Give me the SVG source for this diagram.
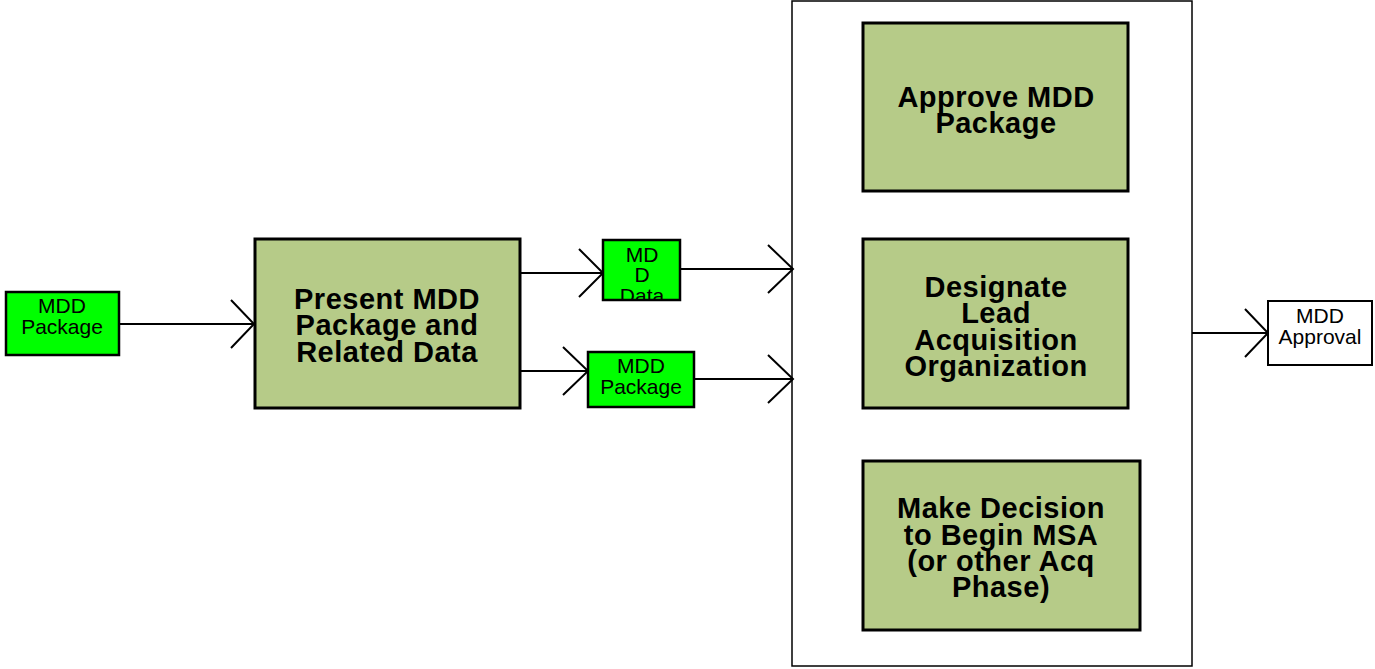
<svg xmlns="http://www.w3.org/2000/svg" width="1375" height="669" viewBox="0 0 1375 669">
<style>
.bg{fill:#ffffff}
.act{fill:#b6cb88;stroke:#000;stroke-width:3}
.data{fill:#00ff00;stroke:#000;stroke-width:2.5}
.out{fill:#ffffff;stroke:#000;stroke-width:2}
.cont{fill:#ffffff;stroke:#000;stroke-width:1.5}
.big{font-family:"Liberation Sans",Arial,sans-serif;font-weight:bold;font-size:29px;letter-spacing:0.5px;text-anchor:middle;fill:#000}
.sm{font-family:"Liberation Sans",Arial,sans-serif;font-size:21px;text-anchor:middle;fill:#000}
.ln{fill:none;stroke:#000;stroke-width:2}
</style>
<defs>
<clipPath id="clipData"><rect x="603" y="240" width="77" height="59"/></clipPath>
</defs>
<rect class="bg" x="0" y="0" width="1375" height="669"/>
<g id="container"><rect class="cont" x="792" y="1" width="400" height="665"/></g>
<g id="connectors">
<path class="ln" d="M119 324H254M231 300L254 324L231 348"/>
<path class="ln" d="M520 273H603M579 249L603 273L579 297"/>
<path class="ln" d="M680 269H793M768 245L793 269L768 293"/>
<path class="ln" d="M520 371H588M563 347L588 371L563 395"/>
<path class="ln" d="M694 379H793M768 355L793 379L768 403"/>
<path class="ln" d="M1192 333H1268M1245 309L1268 333L1245 357"/>
</g>
<g id="in-package">
<rect class="data" x="6" y="292" width="113" height="63"/>
<text class="sm" x="62" y="313">MDD</text>
<text class="sm" x="62" y="334">Package</text>
</g>
<g id="present">
<rect class="act" x="255" y="239" width="265" height="169"/>
<text class="big" x="387" y="309">Present MDD</text>
<text class="big" x="387" y="335">Package and</text>
<text class="big" x="387" y="362">Related Data</text>
</g>
<g id="mdd-data">
<rect class="data" x="603" y="240" width="77" height="60"/>
<g clip-path="url(#clipData)">
<text class="sm" x="642" y="262">MD</text>
<text class="sm" x="642" y="282">D</text>
<text class="sm" x="642" y="303">Data</text>
</g>
</g>
<g id="mdd-package-2">
<rect class="data" x="588" y="352" width="106" height="55"/>
<text class="sm" x="641" y="373">MDD</text>
<text class="sm" x="641" y="394">Package</text>
</g>
<g id="approve">
<rect class="act" x="863" y="23" width="265" height="168"/>
<text class="big" x="996" y="107">Approve MDD</text>
<text class="big" x="996" y="133">Package</text>
</g>
<g id="designate">
<rect class="act" x="863" y="239" width="265" height="169"/>
<text class="big" x="996" y="297">Designate</text>
<text class="big" x="996" y="323">Lead</text>
<text class="big" x="996" y="350">Acquisition</text>
<text class="big" x="996" y="376">Organization</text>
</g>
<g id="decision">
<rect class="act" x="863" y="461" width="277" height="169"/>
<text class="big" x="1001" y="518">Make Decision</text>
<text class="big" x="1001" y="545">to Begin MSA</text>
<text class="big" x="1001" y="571">(or other Acq</text>
<text class="big" x="1001" y="597">Phase)</text>
</g>
<g id="approval">
<rect class="out" x="1268" y="301" width="104" height="64"/>
<text class="sm" x="1320" y="323">MDD</text>
<text class="sm" x="1320" y="344">Approval</text>
</g>
</svg>
